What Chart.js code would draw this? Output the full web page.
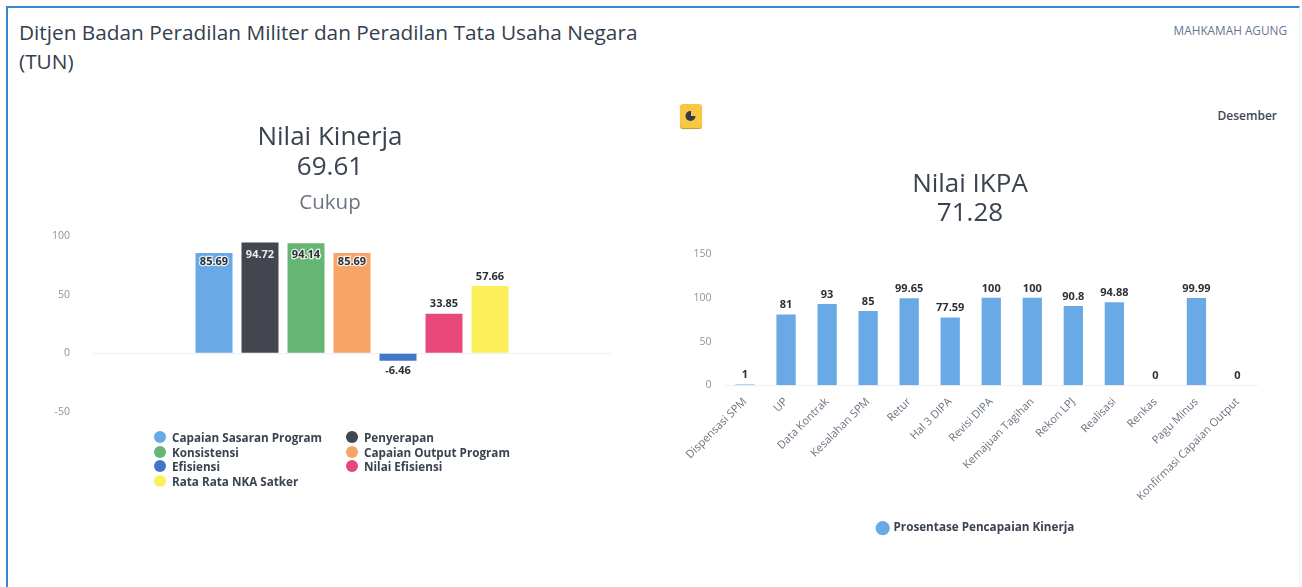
<!DOCTYPE html>
<html><head><meta charset="utf-8">
<script src="https://cdn.jsdelivr.net/npm/chart.js@4/dist/chart.umd.min.js"></script>
<style>
html,body{margin:0;padding:0;width:1302px;height:587px;background:#fff;overflow:hidden;font-family:"Open Sans",sans-serif;color:#2f3b4a}
#frame{position:absolute;left:6px;top:6px;width:1294px;height:600px;border-top:2px solid #3b86cf;border-left:2px solid #3b86cf;border-right:1px solid #eef6f8;box-sizing:border-box}
#head{position:absolute;left:19px;top:18px;width:640px;font-size:20.8px;line-height:29px;color:#33404f}
#org{position:absolute;right:15px;top:22px;font-size:11.8px;color:#64748f}
#month{position:absolute;right:25px;top:107px;font-size:12px;font-weight:600;color:#3c4858}
#icon{position:absolute;left:680px;top:104px;width:22px;height:24px;background:#f8c843;border-radius:3px;box-shadow:0 1px 1px #b9962a}
#icon svg{position:absolute;left:5px;top:6px}
#c1{position:absolute;left:49px;top:110px}
#c2{position:absolute;left:682px;top:150px}
#leg{position:absolute;left:153px;top:430px;display:grid;grid-template-columns:192px auto;column-gap:0;font-size:11.7px;font-weight:700;line-height:14.7px;color:#3a4350}
#leg div{white-space:nowrap;padding-left:19px;position:relative}
#leg i{position:absolute;left:1px;top:1px;width:12px;height:12px;border-radius:50%}
</style></head><body>
<div id="frame"></div>
<div id="head">Ditjen Badan Peradilan Militer dan Peradilan Tata Usaha Negara (TUN)</div>
<div id="org">MAHKAMAH AGUNG</div>
<div id="month">Desember</div>
<div id="icon"><svg width="12" height="12" viewBox="0 0 12 12"><circle cx="5.5" cy="6" r="5" fill="#2f3b4a"/><path d="M6 1 L11 1 L11 6 L6 6 Z" fill="#f8c843"/></svg></div>
<canvas id="c1" width="562" height="331"></canvas>
<div id="leg"></div>
<canvas id="c2" width="576" height="394"></canvas>
<script>
const kinerjaTitle = ['Nilai Kinerja','69.61'];
const kinerjaSub = 'Cukup';
const kinerjaCategory = ['Nilai Kinerja'];
const kinerjaLabels = ['Capaian Sasaran Program','Penyerapan','Konsistensi','Capaian Output Program','Efisiensi','Nilai Efisiensi','Rata Rata NKA Satker'];
const kinerjaValues = [85.69,94.72,94.14,85.69,-6.46,33.85,57.66];
const kinerjaColors = ['#69a9e6','#43454f','#66b574','#f6a566','#4476c8','#e9487a','#fdee5c'];

const ikpaTitle = ['Nilai IKPA','71.28'];
const ikpaCategories = ['Dispensasi SPM','UP','Data Kontrak','Kesalahan SPM','Retur','Hal 3 DIPA','Revisi DIPA','Kemajuan Tagihan','Rekon LPJ','Realisasi','Renkas','Pagu Minus','Konfirmasi Capaian Output'];
const ikpaValues = [1,81,93,85,99.65,77.59,100,100,90.8,94.88,0,99.99,0];
const ikpaSeries = 'Prosentase Pencapaian Kinerja';
const ikpaColor = '#69a9e6';

const FONT = '"Open Sans",sans-serif';
const valueLabels = {
  id:'valueLabels',
  afterDatasetsDraw(chart,args,opts){
    const c = chart.ctx;
    c.save();
    c.textAlign='center';
    c.font='700 11px '+FONT;
    chart.data.datasets.forEach((ds,di)=>{
      const meta = chart.getDatasetMeta(di);
      meta.data.forEach((bar,i)=>{
        const v = ds.data[i];
        const inside = opts.insideAbove !== undefined && v > opts.insideAbove;
        const tall = v > 90;
        let y;
        if(inside){ c.textBaseline='middle'; y = bar.y + (tall?12:9); }
        else if(v<0){ c.textBaseline='top'; y = bar.y+5; }
        else { c.textBaseline='bottom'; y = bar.y-4; }
        const dark = inside && di===1;
        if(inside && !dark){ c.lineWidth=2.5; c.strokeStyle='rgba(255,255,255,.8)'; c.strokeText(String(v),bar.x,y); }
        c.fillStyle = dark ? '#e9eaec' : '#2b2f38';
        c.fillText(String(v),bar.x,y);
      });
    });
    c.restore();
  }
};
const legendShift = {
  id:'legendShift',
  afterLayout(chart){ if(chart.legend){ chart.legend.left += 12; } }
};

document.getElementById('leg').innerHTML = kinerjaLabels.map((l,i)=>'<div><i style="background:'+kinerjaColors[i]+'"></i>'+l+'</div>').join('');

const tickStyle = {color:'#8a93a0',font:{family:FONT,size:10.5}};
new Chart(document.getElementById('c1'),{
  type:'bar',
  data:{labels:kinerjaCategory,datasets:kinerjaLabels.map((l,i)=>({label:l,data:[kinerjaValues[i]],backgroundColor:kinerjaColors[i],barPercentage:0.804,categoryPercentage:0.6216}))},
  options:{
    responsive:false,animation:false,
    layout:{padding:0},
    scales:{
      x:{display:false},
      y:{min:-50,max:100,afterFit(s){s.width=44;},ticks:{stepSize:50,...tickStyle,padding:23},border:{display:false},
         grid:{drawTicks:false,color:ctx=>ctx.tick.value===0?'#eef0f3':'rgba(0,0,0,0)'}}
    },
    plugins:{
      legend:{display:false},tooltip:{enabled:false},
      title:{display:true,text:kinerjaTitle,color:'#3a4350',font:{family:FONT,size:26,weight:'400',lineHeight:1.15},padding:{top:13,bottom:0}},
      subtitle:{display:true,text:kinerjaSub,color:'#6b7480',font:{family:FONT,size:20.5},padding:{top:8,bottom:21}},
      valueLabels:{insideAbove:70}
    }
  },
  plugins:[valueLabels]
});

new Chart(document.getElementById('c2'),{
  type:'bar',
  data:{labels:ikpaCategories,datasets:[{label:ikpaSeries,data:ikpaValues,backgroundColor:ikpaColor,barPercentage:0.47,categoryPercentage:1}]},
  options:{
    responsive:false,animation:false,
    layout:{padding:0},
    scales:{
      x:{afterFit(s){s.height=127;},ticks:{color:'#6b7480',font:{family:FONT,size:11},minRotation:45,maxRotation:45,autoSkip:false,padding:2},grid:{display:false},border:{color:'#eef0f3'}},
      y:{min:0,max:150,afterFit(s){s.width=42.5;},ticks:{stepSize:50,...tickStyle,padding:13},border:{display:false},grid:{display:false,drawTicks:false}}
    },
    plugins:{
      tooltip:{enabled:false},
      title:{display:true,text:ikpaTitle,color:'#3a4350',font:{family:FONT,size:26,weight:'400',lineHeight:1.08},padding:{top:21,bottom:27}},
      legend:{position:'bottom',labels:{usePointStyle:true,pointStyle:'circle',boxWidth:10,boxHeight:10,color:'#3a4350',font:{family:FONT,size:11.7,weight:'700'}}},
      valueLabels:{}
    }
  },
  plugins:[valueLabels,legendShift]
});
</script>
</body></html>
